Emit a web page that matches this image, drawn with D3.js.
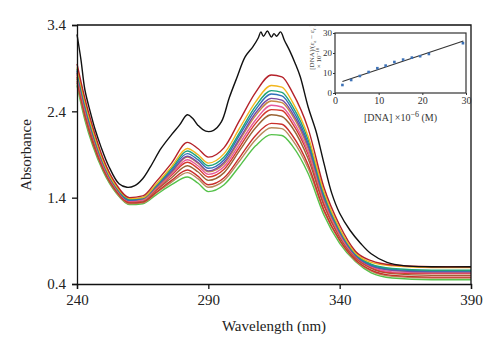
<!DOCTYPE html>
<html>
<head>
<meta charset="utf-8">
<script src="https://cdn.jsdelivr.net/npm/d3@7"></script>
<style>
  body { margin: 0; background: #fff; }
  svg { display: block; font-family: "Liberation Serif", "DejaVu Serif", serif; }
</style>
</head>
<body>
<svg id="chart"></svg>
<script>
// wavelength grid for the titration spectra (nm)
const wavelengths = [240, 243, 246, 250, 255, 260, 265, 270, 276, 282, 286, 290, 296, 302, 308, 314, 318, 322, 328, 334, 340, 346, 352, 360, 375, 390];

// spectra after each DNA addition, top to bottom
const spectra = [
  {color: '#b5222a', values: [2.95, 2.55, 2.22, 1.85, 1.55, 1.40, 1.42, 1.58, 1.80, 2.04, 1.97, 1.87, 1.98, 2.30, 2.62, 2.82, 2.80, 2.62, 2.20, 1.52, 1.08, 0.78, 0.67, 0.62, 0.60, 0.60]},
  {color: '#f2b61e', values: [2.91, 2.51, 2.18, 1.82, 1.53, 1.39, 1.40, 1.55, 1.76, 1.97, 1.90, 1.80, 1.91, 2.21, 2.51, 2.70, 2.68, 2.51, 2.11, 1.47, 1.04, 0.76, 0.65, 0.61, 0.59, 0.59]},
  {color: '#1fa37a', values: [2.89, 2.49, 2.16, 1.81, 1.52, 1.38, 1.40, 1.54, 1.74, 1.94, 1.87, 1.77, 1.87, 2.16, 2.46, 2.64, 2.62, 2.46, 2.07, 1.44, 1.03, 0.75, 0.63, 0.58, 0.56, 0.56]},
  {color: '#2f6fb8', values: [2.87, 2.47, 2.15, 1.80, 1.52, 1.37, 1.39, 1.53, 1.72, 1.91, 1.84, 1.74, 1.84, 2.13, 2.42, 2.60, 2.58, 2.42, 2.03, 1.42, 1.01, 0.74, 0.62, 0.57, 0.55, 0.55]},
  {color: '#7b4aa0', values: [2.85, 2.45, 2.13, 1.79, 1.51, 1.37, 1.39, 1.52, 1.70, 1.88, 1.81, 1.71, 1.81, 2.09, 2.38, 2.55, 2.53, 2.38, 2.00, 1.40, 1.00, 0.73, 0.61, 0.56, 0.54, 0.54]},
  {color: '#c98a45', values: [2.84, 2.44, 2.12, 1.79, 1.51, 1.37, 1.38, 1.51, 1.69, 1.87, 1.80, 1.70, 1.79, 2.07, 2.35, 2.52, 2.50, 2.35, 1.97, 1.38, 0.99, 0.73, 0.61, 0.56, 0.54, 0.54]},
  {color: '#e65a9c', values: [2.82, 2.42, 2.11, 1.77, 1.50, 1.36, 1.37, 1.50, 1.67, 1.84, 1.77, 1.67, 1.76, 2.03, 2.30, 2.47, 2.45, 2.30, 1.93, 1.36, 0.97, 0.72, 0.60, 0.54, 0.53, 0.53]},
  {color: '#d4392b', values: [2.80, 2.40, 2.09, 1.76, 1.49, 1.35, 1.37, 1.49, 1.66, 1.81, 1.74, 1.64, 1.73, 1.99, 2.26, 2.42, 2.41, 2.26, 1.90, 1.33, 0.96, 0.71, 0.59, 0.53, 0.52, 0.52]},
  {color: '#9a6436', values: [2.78, 2.38, 2.07, 1.75, 1.48, 1.35, 1.36, 1.48, 1.63, 1.77, 1.70, 1.60, 1.69, 1.95, 2.21, 2.36, 2.34, 2.21, 1.85, 1.31, 0.94, 0.70, 0.58, 0.52, 0.50, 0.50]},
  {color: '#c9302c', values: [2.75, 2.35, 2.04, 1.73, 1.47, 1.34, 1.35, 1.46, 1.60, 1.72, 1.65, 1.55, 1.63, 1.87, 2.12, 2.26, 2.25, 2.12, 1.78, 1.26, 0.91, 0.68, 0.56, 0.50, 0.48, 0.48]},
  {color: '#b98a5c', values: [2.73, 2.33, 2.03, 1.72, 1.46, 1.33, 1.34, 1.45, 1.58, 1.69, 1.62, 1.52, 1.60, 1.83, 2.07, 2.21, 2.20, 2.07, 1.74, 1.24, 0.90, 0.67, 0.55, 0.49, 0.47, 0.47]},
  {color: '#55c24a', values: [2.70, 2.30, 2.00, 1.70, 1.45, 1.32, 1.33, 1.43, 1.55, 1.64, 1.57, 1.47, 1.55, 1.77, 2.00, 2.13, 2.12, 2.00, 1.68, 1.20, 0.87, 0.66, 0.53, 0.47, 0.45, 0.45]}
];

// free compound spectrum (black), read on its own finer grid
const freeWavelengths = [240, 241.5, 243, 245, 247, 249, 252, 256, 259, 262, 265, 268, 272, 276, 279, 282, 284, 286, 289, 292, 295, 298, 301, 304, 307, 309, 310, 311, 312.5, 314, 315, 316, 317.5, 319, 321, 323, 325, 328, 331, 334, 337, 340, 344, 348, 352, 358, 365, 375, 390];
const freeValues = [3.29, 3.00, 2.65, 2.40, 2.18, 2.00, 1.77, 1.56, 1.52, 1.54, 1.62, 1.76, 1.97, 2.13, 2.24, 2.36, 2.32, 2.24, 2.17, 2.18, 2.28, 2.56, 2.80, 3.03, 3.15, 3.25, 3.32, 3.27, 3.33, 3.26, 3.30, 3.27, 3.32, 3.22, 3.10, 2.96, 2.80, 2.45, 2.17, 1.80, 1.45, 1.22, 1.02, 0.87, 0.75, 0.65, 0.61, 0.60, 0.60];

const xTicks = [240, 290, 340, 390];
const yTicks = [0.4, 1.4, 2.4, 3.4];

// inset: binding plot
const dnaConc = [1.7, 3.7, 5.7, 7.7, 9.7, 11.6, 13.6, 15.6, 17.6, 19.5, 21.5, 29.3];
const dnaRatio = [4.0, 6.5, 8.5, 10.5, 12.4, 13.7, 15.5, 16.7, 17.7, 18.4, 19.5, 24.9];
const fitX = [1.7, 29.4];
const fitY = [5.7, 26.0];
const insetTicks = [0, 10, 20, 30];

const width = 500, height = 353;
const margin = {top: 25, right: 29, bottom: 69, left: 77};
const innerW = width - margin.left - margin.right;
const innerH = height - margin.top - margin.bottom;

const svg = d3.select('#chart')
    .attr('width', width)
    .attr('height', height);

const chart = svg.append('g')
    .attr('transform', `translate(${margin.left},${margin.top})`);

const xScale = d3.scaleLinear().domain([240, 390]).range([0, innerW]);
const yScale = d3.scaleLinear().domain([0.4, 3.4]).range([innerH, 0]);

const line = d3.line()
    .x(d => xScale(d[0]))
    .y(d => yScale(d[1]))
    .curve(d3.curveMonotoneX);

// colored spectra, drawn bottom first so the upper ones sit on top
spectra.slice().reverse().forEach(s => {
    chart.append('path')
        .datum(wavelengths.map((w, i) => [w, s.values[i]]))
        .attr('fill', 'none')
        .attr('stroke', s.color)
        .attr('stroke-width', 1.4)
        .attr('d', line);
});

chart.append('path')
    .datum(freeWavelengths.map((w, i) => [w, freeValues[i]]))
    .attr('fill', 'none')
    .attr('stroke', '#111')
    .attr('stroke-width', 1.4)
    .attr('d', d3.line().x(d => xScale(d[0])).y(d => yScale(d[1])).curve(d3.curveCatmullRom));

// frame (top and right)
chart.append('path')
    .attr('d', `M0,0H${innerW}V${innerH}`)
    .attr('fill', 'none')
    .attr('stroke', '#111')
    .attr('stroke-width', 1.3);

const xAxis = d3.axisBottom(xScale).tickValues(xTicks).tickSize(5).tickPadding(5).tickFormat(d3.format('d'));
const yAxis = d3.axisLeft(yScale).tickValues(yTicks).tickSize(5).tickPadding(6).tickFormat(d3.format('.1f'));

chart.append('g')
    .attr('transform', `translate(0,${innerH})`)
    .call(xAxis)
    .call(g => g.selectAll('path, line').attr('stroke', '#111').attr('stroke-width', 1.3))
    .call(g => g.selectAll('text').attr('font-size', 15).attr('font-family', 'Liberation Serif').attr('fill', '#222'));

chart.append('g')
    .call(yAxis)
    .call(g => g.selectAll('path, line').attr('stroke', '#111').attr('stroke-width', 1.3))
    .call(g => g.selectAll('text').attr('font-size', 15).attr('font-family', 'Liberation Serif').attr('fill', '#222'));

svg.append('text')
    .attr('x', margin.left + innerW / 2)
    .attr('y', 331)
    .attr('text-anchor', 'middle')
    .attr('font-size', 15)
    .attr('fill', '#222')
    .text('Wavelength (nm)');

svg.append('text')
    .attr('transform', 'translate(31,155) rotate(-90)')
    .attr('text-anchor', 'middle')
    .attr('font-size', 15)
    .attr('fill', '#222')
    .text('Absorbance');

// ---- inset ----
const inset = {left: 335, top: 33, width: 131, height: 60};
const ix = d3.scaleLinear().domain([0, 30]).range([0, inset.width]);
const iy = d3.scaleLinear().domain([0, 30]).range([inset.height, 0]);

const ig = svg.append('g')
    .attr('transform', `translate(${inset.left},${inset.top})`);

ig.append('rect')
    .attr('width', inset.width)
    .attr('height', inset.height)
    .attr('fill', '#fff')
    .attr('stroke', '#333')
    .attr('stroke-width', 1.2);

ig.append('g')
    .attr('transform', `translate(0,${inset.height})`)
    .call(d3.axisBottom(ix).tickValues(insetTicks).tickSize(2).tickPadding(2))
    .call(g => g.select('.domain').remove())
    .call(g => g.selectAll('line').attr('stroke', '#333'))
    .call(g => g.selectAll('text').attr('font-size', 10).attr('font-family', 'Liberation Serif').attr('fill', '#333'));

ig.append('g')
    .call(d3.axisLeft(iy).tickValues(insetTicks).tickSize(2).tickPadding(1))
    .call(g => g.select('.domain').remove())
    .call(g => g.selectAll('line').attr('stroke', '#333'))
    .call(g => g.selectAll('text').attr('font-size', 9).attr('font-family', 'Liberation Serif').attr('fill', '#333'));

ig.append('line')
    .attr('x1', ix(fitX[0])).attr('y1', iy(fitY[0]))
    .attr('x2', ix(fitX[1])).attr('y2', iy(fitY[1]))
    .attr('stroke', '#333')
    .attr('stroke-width', 1.1);

ig.selectAll('.pt')
    .data(dnaConc.map((c, i) => [c, dnaRatio[i]]))
    .join('rect')
    .attr('class', 'pt')
    .attr('x', d => ix(d[0]) - 1.3)
    .attr('y', d => iy(d[1]) - 1.3)
    .attr('width', 2.6)
    .attr('height', 2.6)
    .attr('fill', '#3d72b8');

const xl = svg.append('text')
    .attr('x', inset.left + inset.width / 2)
    .attr('y', 121)
    .attr('text-anchor', 'middle')
    .attr('font-size', 10)
    .attr('fill', '#333');
xl.append('tspan').text('[DNA] ×10');
xl.append('tspan').attr('dy', -4).attr('font-size', 8).text('−6');
xl.append('tspan').attr('dy', 4).text(' (M)');

const yl1 = svg.append('text')
    .attr('transform', 'translate(314,47) rotate(-90)')
    .attr('text-anchor', 'middle')
    .attr('font-size', 7)
    .attr('fill', '#444');
yl1.append('tspan').text('[DNA]/(ε');
yl1.append('tspan').attr('dy', 1.5).attr('font-size', 5).text('a');
yl1.append('tspan').attr('dy', -1.5).text(' − ε');
yl1.append('tspan').attr('dy', 1.5).attr('font-size', 5).text('f');
yl1.append('tspan').attr('dy', -1.5).text(' )');

const yl2 = svg.append('text')
    .attr('transform', 'translate(321,58) rotate(-90)')
    .attr('text-anchor', 'middle')
    .attr('font-size', 7)
    .attr('fill', '#444');
yl2.append('tspan').text('× 10');
yl2.append('tspan').attr('dy', -2.5).attr('font-size', 5).text('−10');
</script>
</body>
</html>
